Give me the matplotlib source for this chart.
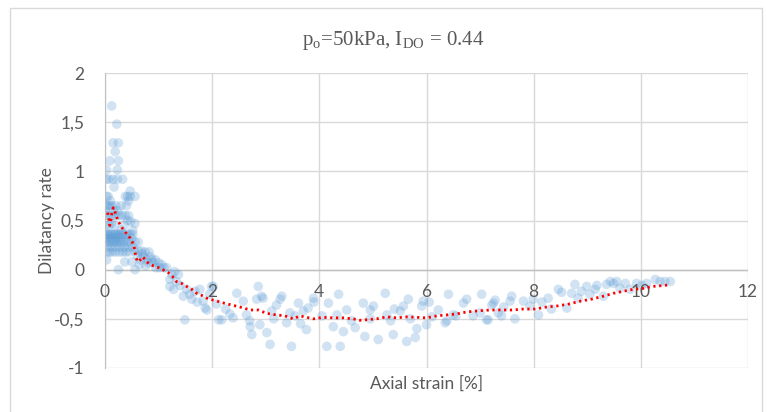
import matplotlib
matplotlib.use("Agg")
import matplotlib.pyplot as plt
from matplotlib.patches import Rectangle

plt.rcParams['font.family'] = ['Lato', 'DejaVu Sans']
plt.rcParams['mathtext.fontset'] = 'custom'
plt.rcParams['mathtext.rm'] = 'Liberation Serif'

# ---------------- data ----------------
# measured points (axial strain %, dilatancy rate)
strain = [
    0.125, 0.22, 0.15, 0.25, 0.19, 0.09, 0.25, 0.03, 0.23,
    0.03, 0.07, 0.23, 0.33, 0.15, 0.17, 0.47,
    0.03, 0.06, 0.38, 0.42, 0.47, 0.56, 0.10, 0.44,
    0.02, 0.05, 0.09, 0.13, 0.20, 0.30, 0.40, 0.00, 0.16, 0.24,
    0.00, 0.04, 0.10, 0.15, 0.20, 0.26, 0.32, 0.38, 0.44,
    0.48, 0.56, 0.12, 0.30, 0.52, 0.02, 0.08, 0.18, 0.36, 0.42,
    0.00, 0.02, 0.05, 0.08, 0.11, 0.14, 0.17, 0.20, 0.23, 0.26, 0.29, 0.33, 0.37, 0.42, 0.47, 0.52,
    0.01, 0.07, 0.13, 0.19, 0.25, 0.31, 0.40, 0.50,
    0.02, 0.06, 0.10, 0.14, 0.18, 0.22, 0.26, 0.30, 0.35, 0.41, 0.47, 0.56, 0.62,
    0.04, 0.12, 0.20, 0.28, 0.36, 0.44, 0.52,
    0.04, 0.09, 0.14, 0.20, 0.27, 0.33, 0.39, 0.45, 0.55, 0.62, 0.68, 0.75, 0.82,
    0.03, 0.37, 0.50, 0.66, 0.78, 0.88, 0.60, 0.70,
    0.25, 0.56, 0.95, 1.02, 1.10, 1.15,
    0.81, 0.90, 1.00, 0.72, 0.85, 0.64, 0.76, 0.94, 1.06,
    1.21, 1.25, 1.30, 1.37, 1.21, 1.28, 1.33, 1.40, 1.46, 1.49, 1.52, 1.58, 1.62,
    1.68, 1.72, 1.77, 1.83, 1.90, 1.87, 1.95, 1.99, 2.02, 2.08,
    2.18, 2.39, 2.46, 2.58, 2.71, 2.74, 2.83, 2.86, 2.92, 3.02, 3.08, 3.11, 3.27,
    3.30, 3.39, 3.48, 3.55, 3.61, 3.76, 3.79, 3.89, 3.90, 2.12, 2.25, 2.33, 2.64,
    2.89, 2.95, 2.70, 3.15, 3.20, 3.45, 3.65, 3.70,
    4.14, 4.17, 4.26, 4.33, 4.36, 4.39, 4.45, 4.51, 4.67, 4.82, 4.85, 4.95,
    5.01, 5.10, 5.23, 5.26, 5.33, 5.38, 5.51, 5.57, 5.63, 5.66, 5.70, 5.79,
    5.82, 5.91, 5.94, 6.00, 6.05, 6.22, 6.38, 6.41, 6.50, 6.55, 6.69, 6.75,
    6.87, 7.03, 7.12, 7.22, 7.28, 7.34, 4.05, 4.60, 4.95, 5.40, 6.10, 6.35,
    7.00, 7.15, 7.25, 7.40, 7.44, 7.56, 7.59, 7.65, 7.81, 7.93, 7.99, 8.09,
    8.15, 8.27, 8.33, 8.46, 8.52, 8.62, 8.71, 8.77, 8.83, 8.89, 8.99, 9.05,
    9.15, 9.18, 9.30, 9.36, 9.43, 9.49, 9.55, 9.61, 9.71, 9.80, 9.92, 10.02,
    10.11, 10.27, 10.36, 10.45, 10.55,
]
dilatancy = [
    1.665, 1.48, 1.29, 1.29, 1.20, 1.107, 1.107, 1.015, 1.015,
    0.92, 0.92, 0.92, 0.92, 0.92, 0.84, 0.80,
    0.745, 0.745, 0.745, 0.745, 0.745, 0.745, 0.70, 0.70,
    0.65, 0.65, 0.65, 0.65, 0.65, 0.65, 0.65, 0.60, 0.60, 0.60,
    0.55, 0.55, 0.55, 0.55, 0.55, 0.55, 0.55, 0.55, 0.55,
    0.49, 0.47, 0.47, 0.40, 0.40, 0.45, 0.45, 0.45, 0.45, 0.50,
    0.36, 0.36, 0.36, 0.36, 0.36, 0.36, 0.36, 0.36, 0.36, 0.36, 0.36, 0.36, 0.36, 0.36, 0.36, 0.36,
    0.32, 0.32, 0.32, 0.32, 0.32, 0.32, 0.32, 0.32,
    0.28, 0.28, 0.28, 0.28, 0.28, 0.28, 0.28, 0.28, 0.28, 0.28, 0.28, 0.28, 0.28,
    0.23, 0.23, 0.23, 0.23, 0.23, 0.23, 0.23,
    0.18, 0.18, 0.18, 0.18, 0.18, 0.18, 0.18, 0.18, 0.19, 0.19, 0.19, 0.18, 0.18,
    0.10, 0.08, 0.08, 0.10, 0.10, 0.10, 0.14, 0.16,
    0.00, 0.00, 0.02, 0.02, 0.02, 0.02,
    0.07, 0.07, 0.07, 0.13, 0.13, 0.05, 0.04, 0.10, 0.05,
    -0.10, -0.05, -0.02, -0.05, -0.17, -0.20, -0.12, -0.16, -0.27, -0.51, -0.20, -0.25, -0.30,
    -0.22, -0.33, -0.20, -0.32, -0.41, -0.39, -0.25, -0.17, -0.17, -0.35,
    -0.51, -0.49, -0.24, -0.32, -0.58, -0.66, -0.30, -0.17, -0.27, -0.64, -0.76, -0.42, -0.30,
    -0.27, -0.54, -0.78, -0.47, -0.34, -0.61, -0.39, -0.29, -0.33, -0.51, -0.40, -0.45, -0.46,
    -0.56, -0.29, -0.52, -0.50, -0.36, -0.44, -0.55, -0.42,
    -0.78, -0.34, -0.58, -0.46, -0.25, -0.78, -0.63, -0.41, -0.59, -0.34, -0.68, -0.41,
    -0.37, -0.71, -0.24, -0.46, -0.52, -0.66, -0.42, -0.37, -0.73, -0.30, -0.50, -0.69,
    -0.60, -0.37, -0.32, -0.56, -0.33, -0.41, -0.52, -0.25, -0.46, -0.47, -0.34, -0.30,
    -0.47, -0.25, -0.51, -0.36, -0.31, -0.44, -0.47, -0.52, -0.50, -0.40, -0.48, -0.54,
    -0.44, -0.51, -0.34, -0.47, -0.38, -0.32, -0.27, -0.50, -0.32, -0.37, -0.30, -0.46,
    -0.33, -0.29, -0.40, -0.20, -0.23, -0.39, -0.24, -0.15, -0.29, -0.22, -0.17, -0.25,
    -0.20, -0.16, -0.27, -0.15, -0.12, -0.14, -0.12, -0.19, -0.14, -0.20, -0.14, -0.16,
    -0.14, -0.10, -0.12, -0.12, -0.12,
]

# moving-average trend line
trend_strain = [
    0.05, 0.07, 0.09, 0.11, 0.13, 0.155, 0.18, 0.21, 0.24, 0.27, 0.30, 0.34,
    0.38, 0.42, 0.47, 0.51, 0.54, 0.56, 0.58, 0.61, 0.66, 0.71, 0.76, 0.82,
    0.90, 1.00, 1.08, 1.18, 1.26, 1.33, 1.43, 1.52, 1.62, 1.71, 1.80, 1.90,
    2.02, 2.15, 2.33, 2.52, 2.71, 2.86, 3.02, 3.20, 3.36, 3.51, 3.64, 3.89,
    4.07, 4.26, 4.45, 4.63, 4.76, 5.07, 5.26, 5.44, 5.63, 5.82, 6.00, 6.19,
    6.38, 6.56, 6.75, 6.94, 7.19, 7.37, 7.62, 7.81, 8.03, 8.24, 8.43, 8.65,
    8.87, 9.08, 9.30, 9.49, 9.67, 9.86, 10.05, 10.23, 10.45, 10.55,
]
trend_rate = [
    0.58, 0.52, 0.45, 0.50, 0.58, 0.63, 0.60, 0.55, 0.50, 0.47, 0.44, 0.41,
    0.38, 0.36, 0.32, 0.28, 0.24, 0.18, 0.12, 0.08, 0.10, 0.13, 0.09, 0.06,
    0.04, 0.02, 0.00, -0.03, -0.07, -0.12, -0.14, -0.17, -0.20, -0.24, -0.26, -0.29,
    -0.31, -0.33, -0.355, -0.38, -0.41, -0.41, -0.445, -0.46, -0.47, -0.50, -0.47, -0.50,
    -0.485, -0.49, -0.49, -0.50, -0.515, -0.50, -0.48, -0.49, -0.48, -0.485, -0.49, -0.47,
    -0.46, -0.45, -0.43, -0.42, -0.41, -0.41, -0.41, -0.40, -0.40, -0.38, -0.37, -0.35,
    -0.32, -0.30, -0.27, -0.24, -0.22, -0.20, -0.19, -0.17, -0.16, -0.15,
]

x_ticks = [0, 2, 4, 6, 8, 10, 12]
y_ticks = [-1, -0.5, 0, 0.5, 1, 1.5, 2]
y_tick_labels = ['-1', '-0,5', '0', '0,5', '1', '1,5', '2']

# ---------------- figure ----------------
W, H = 767, 412
fig = plt.figure(figsize=(W / 100, H / 100), dpi=100)
ax = fig.add_axes([105 / W, 1 - 368 / H, (748 - 105) / W, (368 - 73) / H])

grid_c = '#D9D9D9'
text_c = '#595959'
tick_fs = 12.5
label_fs = 12.5

ax.set_xlim(0, 12)
ax.set_ylim(-1, 2)
ax.set_xticks(x_ticks)
ax.set_yticks(y_ticks)
ax.set_yticklabels(y_tick_labels)
ax.set_xticklabels([])
ax.grid(True, color=grid_c, lw=1.0)
ax.set_axisbelow(True)
ax.tick_params(length=0, colors=text_c, labelsize=tick_fs, pad=15)
for s in ['top', 'right', 'bottom']:
    ax.spines[s].set_visible(False)
ax.spines['left'].set_color('#BFBFBF')
ax.axhline(0, color='#BFBFBF', lw=1.0, zorder=1)

for xt in x_ticks:
    ax.text(xt, -0.225, str(xt), ha='center', va='center', fontsize=tick_fs, color=text_c)

ax.scatter(strain, dilatancy, s=48, color='#5B9BD5', alpha=0.28, edgecolors='none', zorder=2)
ax.plot(trend_strain, trend_rate, color='#FF0000', lw=2.0, linestyle=(0, (0.8, 1.3)), zorder=3)

fig.text(47 / W, 1 - 221 / H, 'Dilatancy rate', rotation=90, ha='center', va='center',
         fontsize=label_fs, color=text_c)
fig.text(427 / W, 1 - 384 / H, 'Axial strain [%]', ha='center', va='center',
         fontsize=label_fs, color=text_c)
fig.text(393 / W, 1 - 40 / H, r'p$_\mathrm{o}$=50kPa, I$_\mathrm{DO}$ = 0.44',
         ha='center', va='center', fontsize=15, color=text_c, family='Liberation Serif')

fig.patches.append(Rectangle((10 / W, -0.05), (762 - 10) / W, 1.05 - 8 / H,
                             transform=fig.transFigure, fill=False, edgecolor=grid_c, lw=1.0))

fig.savefig('out.png', dpi=100)
